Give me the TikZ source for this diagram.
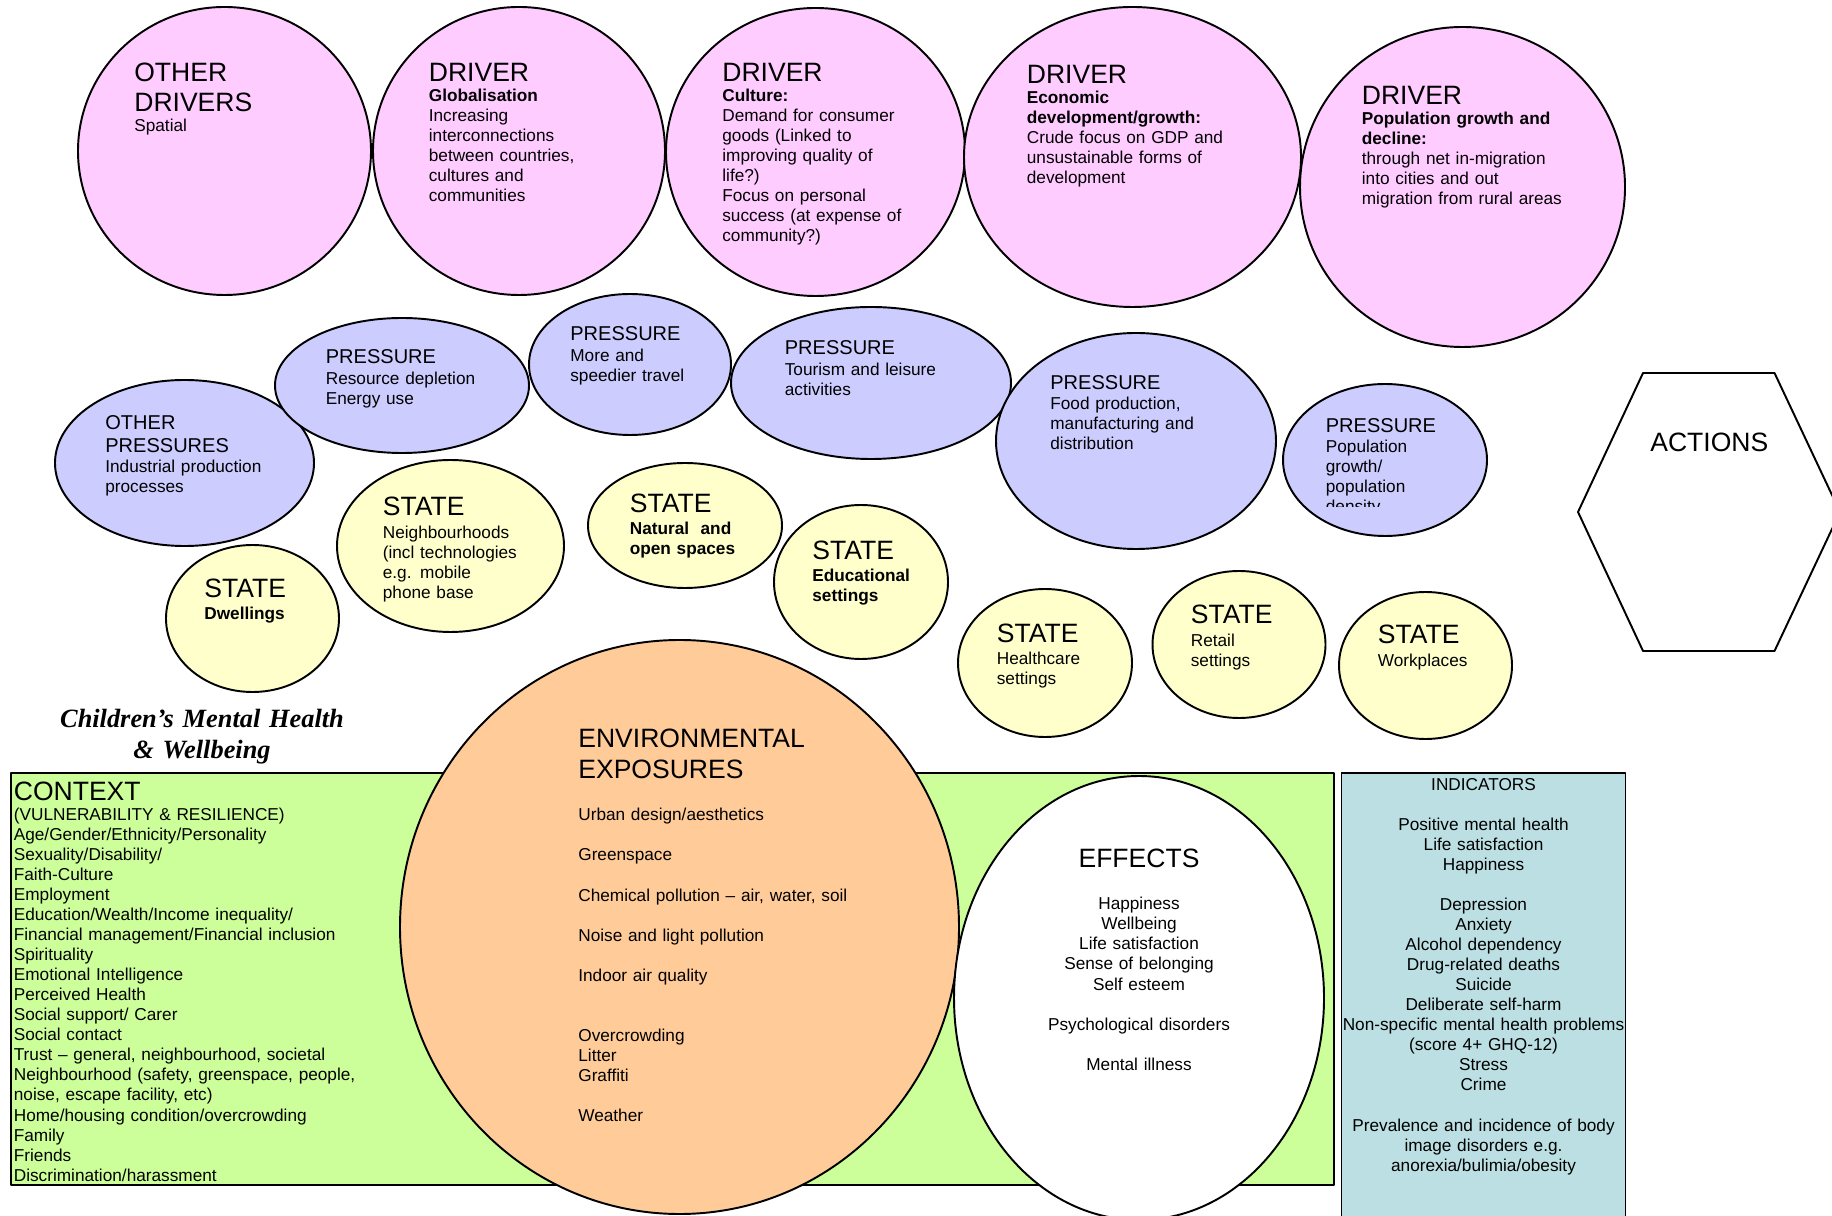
\documentclass[tikz,border=0pt]{standalone}
\usepackage{fontspec}
\setmainfont{Liberation Sans}
\newfontfamily\titlefont{Liberation Serif}
\usetikzlibrary{shapes.geometric}
\definecolor{drvpink}{HTML}{FFCCFF}
\definecolor{prslav}{HTML}{CCCCFF}
\definecolor{staylw}{HTML}{FFFFCC}
\definecolor{envorg}{HTML}{FFCC99}
\definecolor{ctxgrn}{HTML}{CCFF99}
\definecolor{indblu}{HTML}{BBDFE2}
\newcommand\hdfont{\fontsize{15.1}{17.1}\selectfont}
\newcommand\mdfont{\fontsize{11.4}{12.9}\selectfont}
\newcommand\bdfont{\fontsize{9.8}{11.4}\selectfont}

\begin{document}
\begin{tikzpicture}[x=1cm,y=1cm,line join=round,
  blob/.style={ellipse,draw,line width=1.1pt,inner sep=0},
  drv/.style={blob,fill=drvpink},
  prs/.style={blob,fill=prslav},
  sta/.style={blob,fill=staylw},
  lbl/.style={anchor=base west,inner sep=0,align=left,text width=9cm,font=\bdfont},
  mid/.style={anchor=base,inner sep=0,align=center,text width=8cm,font=\bdfont}]
\useasboundingbox (0,0) rectangle (36.64,24.3);
\clip (0,0) rectangle (36.64,24.3);
\fill[white] (0,0) rectangle (36.64,24.3);
\node[drv,minimum width=5.86cm,minimum height=5.76cm] (dOther) at (4.49,21.28) {};
\node[drv,minimum width=5.84cm,minimum height=5.76cm] (dGlobal) at (10.38,21.28) {};
\node[drv,minimum width=5.98cm,minimum height=5.76cm] (dCulture) at (16.31,21.26) {};
\node[drv,minimum width=6.74cm,minimum height=6.00cm] (dEcon) at (22.65,21.16) {};
\node[drv,minimum width=6.50cm,minimum height=6.40cm] (dPop) at (29.25,20.56) {};
\node[lbl] (tOther) at (2.68,22.67) {\hdfont OTHER\\DRIVERS\par\bdfont Spatial};
\node[lbl] (tGlobal) at (8.57,22.67) {\hdfont DRIVER\par\bdfont\textbf{Globalisation}\\Increasing\\interconnections\\between countries,\\cultures and\\communities};
\node[lbl] (tCulture) at (14.44,22.67) {\hdfont DRIVER\par\bdfont\textbf{Culture:}\\Demand for consumer\\goods (Linked to\\improving quality of\\life?)\\Focus on personal\\success (at expense of\\community?)};
\node[lbl] (tEcon) at (20.53,22.63) {\hdfont DRIVER\par\bdfont\textbf{Economic}\\\textbf{development/growth:}\\Crude focus on GDP and\\unsustainable forms of\\development};
\node[lbl] (tPop) at (27.23,22.21) {\hdfont DRIVER\par\bdfont\textbf{Population growth and}\\\textbf{decline:}\\through net in-migration\\into cities and out\\migration from rural areas};
\node[prs,minimum width=5.18cm,minimum height=3.32cm] (pOther) at (3.69,15.04) {};
\node[prs,minimum width=5.08cm,minimum height=2.70cm] (pRes) at (8.04,16.59) {};
\node[prs,minimum width=4.04cm,minimum height=2.82cm] (pTravel) at (12.60,17.01) {};
\node[prs,minimum width=5.60cm,minimum height=3.04cm] (pTour) at (17.42,16.64) {};
\node[prs,minimum width=5.60cm,minimum height=4.32cm] (pFood) at (22.72,15.48) {};
\node[prs,minimum width=4.08cm,minimum height=3.04cm] (pPop) at (27.70,15.10) {};
\node[lbl] (tpOther) at (2.10,15.70) {\mdfont OTHER\\PRESSURES\par\bdfont Industrial production\\processes};
\node[lbl] (tpRes) at (6.51,17.02) {\mdfont PRESSURE\par\bdfont Resource depletion\\Energy use};
\node[lbl] (tpTravel) at (11.40,17.48) {\mdfont PRESSURE\par\bdfont More and\\speedier travel};
\node[lbl] (tpTour) at (15.69,17.20) {\mdfont PRESSURE\par\bdfont Tourism and leisure\\activities};
\node[lbl] (tpFood) at (21.00,16.51) {\mdfont PRESSURE\par\bdfont Food production,\\manufacturing and\\distribution};
\begin{scope}
\clip (26.3,14.17) rectangle (29.8,17.5);
\node[lbl] (tpPop) at (26.51,15.65) {\mdfont PRESSURE\par\bdfont Population\\growth/\\population\\density};
\end{scope}
\node[sta,minimum width=3.46cm,minimum height=2.94cm] (sDwell) at (5.05,11.93) {};
\node[sta,minimum width=4.54cm,minimum height=3.44cm] (sNeigh) at (9.01,13.38) {};
\node[sta,minimum width=3.88cm,minimum height=2.50cm] (sNat) at (13.70,13.79) {};
\node[sta,minimum width=3.48cm,minimum height=3.08cm] (sEdu) at (17.22,12.66) {};
\node[sta,minimum width=3.48cm,minimum height=2.96cm] (sHealth) at (20.90,11.04) {};
\node[sta,minimum width=3.46cm,minimum height=2.94cm] (sRetail) at (24.78,11.41) {};
\node[sta,minimum width=3.46cm,minimum height=2.94cm] (sWork) at (28.51,10.99) {};
\node[lbl] (tsDwell) at (4.08,12.35) {\hdfont STATE\par\vspace{1.3pt}\bdfont\textbf{Dwellings}};
\node[lbl] (tsNeigh) at (7.65,13.98) {\hdfont STATE\par\vspace{1.3pt}\bdfont Neighbourhoods\\(incl technologies\\e.g. mobile\\phone base};
\node[lbl] (tsNat) at (12.59,14.05) {\hdfont STATE\par\vspace{1.3pt}\bdfont\textbf{Natural~ and}\\\textbf{open spaces}};
\node[lbl] (tsEdu) at (16.24,13.11) {\hdfont STATE\par\vspace{1.3pt}\bdfont\textbf{Educational}\\\textbf{settings}};
\node[lbl] (tsHealth) at (19.93,11.45) {\hdfont STATE\par\vspace{1.3pt}\bdfont Healthcare\\settings};
\node[lbl] (tsRetail) at (23.81,11.82) {\hdfont STATE\par\vspace{1.3pt}\bdfont Retail\\settings};
\node[lbl] (tsWork) at (27.55,11.42) {\hdfont STATE\par\vspace{1.3pt}\bdfont Workplaces};
\filldraw[fill=white,line width=1.1pt] (32.86,16.84)--(35.49,16.84)--(36.80,14.06)--(35.49,11.28)--(32.86,11.28)--(31.56,14.06)--cycle;
\node[lbl,font=\hdfont] (tActions) at (33.00,15.27) {ACTIONS};
\node[mid,font=\titlefont\bfseries\itshape\fontsize{15}{17.1}\selectfont] (title) at (4.04,9.74) {Children’s Mental Health\\\& Wellbeing};
\filldraw[fill=ctxgrn,line width=1.1pt] (0.22,0.60) rectangle (26.68,8.84);
\filldraw[fill=indblu,line width=1.1pt] (26.83,-0.5) rectangle (32.51,8.84);
\node[blob,fill=envorg,minimum width=11.18cm,minimum height=11.48cm] (envBlob) at (13.59,5.76) {};
\node[blob,fill=white,minimum width=7.40cm,minimum height=8.88cm] (effBlob) at (22.78,4.34) {};
\node[lbl] (tCtx) at (0.27,8.29) {\hdfont CONTEXT\par\bdfont (VULNERABILITY \& RESILIENCE)\\Age/Gender/Ethnicity/Personality\\Sexuality/Disability/\\Faith-Culture\\Employment\\Education/Wealth/Income inequality/\\Financial management/Financial inclusion\\Spirituality\\Emotional Intelligence\\Perceived Health\\Social support/ Carer\\Social contact\\Trust – general, neighbourhood, societal\\Neighbourhood (safety, greenspace, people,\\noise, escape facility, etc)\\Home/housing condition/overcrowding\\Family\\Friends\\Discrimination/harassment};
\node[lbl] (tEnv) at (11.56,9.34) {\hdfont ENVIRONMENTAL\\EXPOSURES\par\vspace{13pt}\bdfont Urban design/aesthetics\\~\\Greenspace\\~\\Chemical pollution – air, water, soil\\~\\Noise and light pollution\\~\\Indoor air quality\\~\\~\\Overcrowding\\Litter\\Graffiti\\~\\Weather};
\node[mid] (tEff) at (22.78,6.96) {\hdfont EFFECTS\par\vspace{13pt}\bdfont Happiness\\Wellbeing\\Life satisfaction\\Sense of belonging\\Self esteem\\~\\Psychological disorders\\~\\Mental illness};
\node[mid,text width=7cm] (tInd) at (29.67,8.49) {INDICATORS\\~\\Positive mental health\\Life satisfaction\\Happiness\\~\\Depression\\Anxiety\\Alcohol dependency\\Drug-related deaths\\Suicide\\Deliberate self-harm\\Non-specific mental health problems\\(score 4+ GHQ-12)\\Stress\\Crime\\~\\Prevalence and incidence of body\\image disorders e.g.\\anorexia/bulimia/obesity};
\end{tikzpicture}
\end{document}
